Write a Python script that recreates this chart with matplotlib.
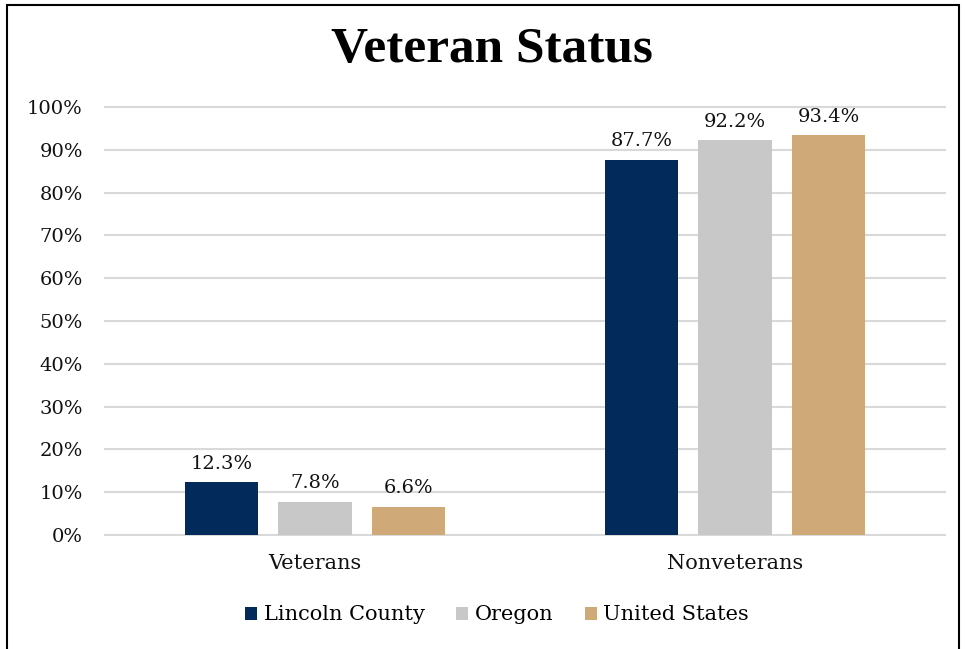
import matplotlib
matplotlib.use("Agg")
import matplotlib.pyplot as plt
import numpy as np
from matplotlib.patches import Rectangle

plt.rcParams['font.family'] = ['DejaVu Serif']

categories = ['Veterans', 'Nonveterans']
series_names = ['Lincoln County', 'Oregon', 'United States']
lincoln = [12.3, 87.7]
oregon = [7.8, 92.2]
united_states = [6.6, 93.4]
y_ticks = [0, 10, 20, 30, 40, 50, 60, 70, 80, 90, 100]

colors = ['#022B5B', '#C8C8C8', '#CFAA78']

fig = plt.figure(figsize=(9.65, 6.49), dpi=100)
ax = fig.add_axes([105/965, 1 - 535/649, 840/965, 428/649])

x = np.arange(len(categories))
width = 0.176
step = 0.2226
for i, (name, vals) in enumerate(zip(series_names, [lincoln, oregon, united_states])):
    pos = x + (i - 1) * step
    bars = ax.bar(pos, vals, width=width, color=colors[i], label=name, zorder=3)
    for b, v in zip(bars, vals):
        ax.annotate(f"{v:.1f}%", (b.get_x() + b.get_width() / 2, v),
                    xytext=(0, 7), textcoords='offset points',
                    ha='center', va='bottom', fontsize=14, color='#111111')

ax.set_xlim(-0.5, 1.5)
ax.set_ylim(0, 100)
ax.set_yticks(y_ticks)
ax.set_yticklabels([f"{t}%" for t in y_ticks], fontsize=14)
ax.set_xticks(x)
ax.set_xticklabels(categories, fontsize=15)
ax.tick_params(axis='both', length=0, colors='#111111')
ax.tick_params(axis='y', pad=16)
ax.tick_params(axis='x', pad=14)
ax.grid(axis='y', color='#D9D9D9', linewidth=1.5, zorder=0)
for line in ax.get_ygridlines():
    line.set_clip_on(False)
for s in ax.spines.values():
    s.set_visible(False)

fig.text(492/965, 1 - 50/649, 'Veteran Status', ha='center', va='center',
         fontsize=37, fontweight='bold', family='Liberation Serif')

ax.legend(loc='center', bbox_to_anchor=(497/965, 1 - 615/649),
          bbox_transform=fig.transFigure, ncol=3, frameon=False,
          fontsize=15, handlelength=0.6, handleheight=0.6,
          handletextpad=0.3, columnspacing=1.5)

fig.patches.append(Rectangle((7/965, -0.05), 952/965, 1 - 5/649 + 0.05,
                             transform=fig.transFigure, fill=False,
                             edgecolor='black', linewidth=1.5))

fig.savefig('out.png', dpi=100)
